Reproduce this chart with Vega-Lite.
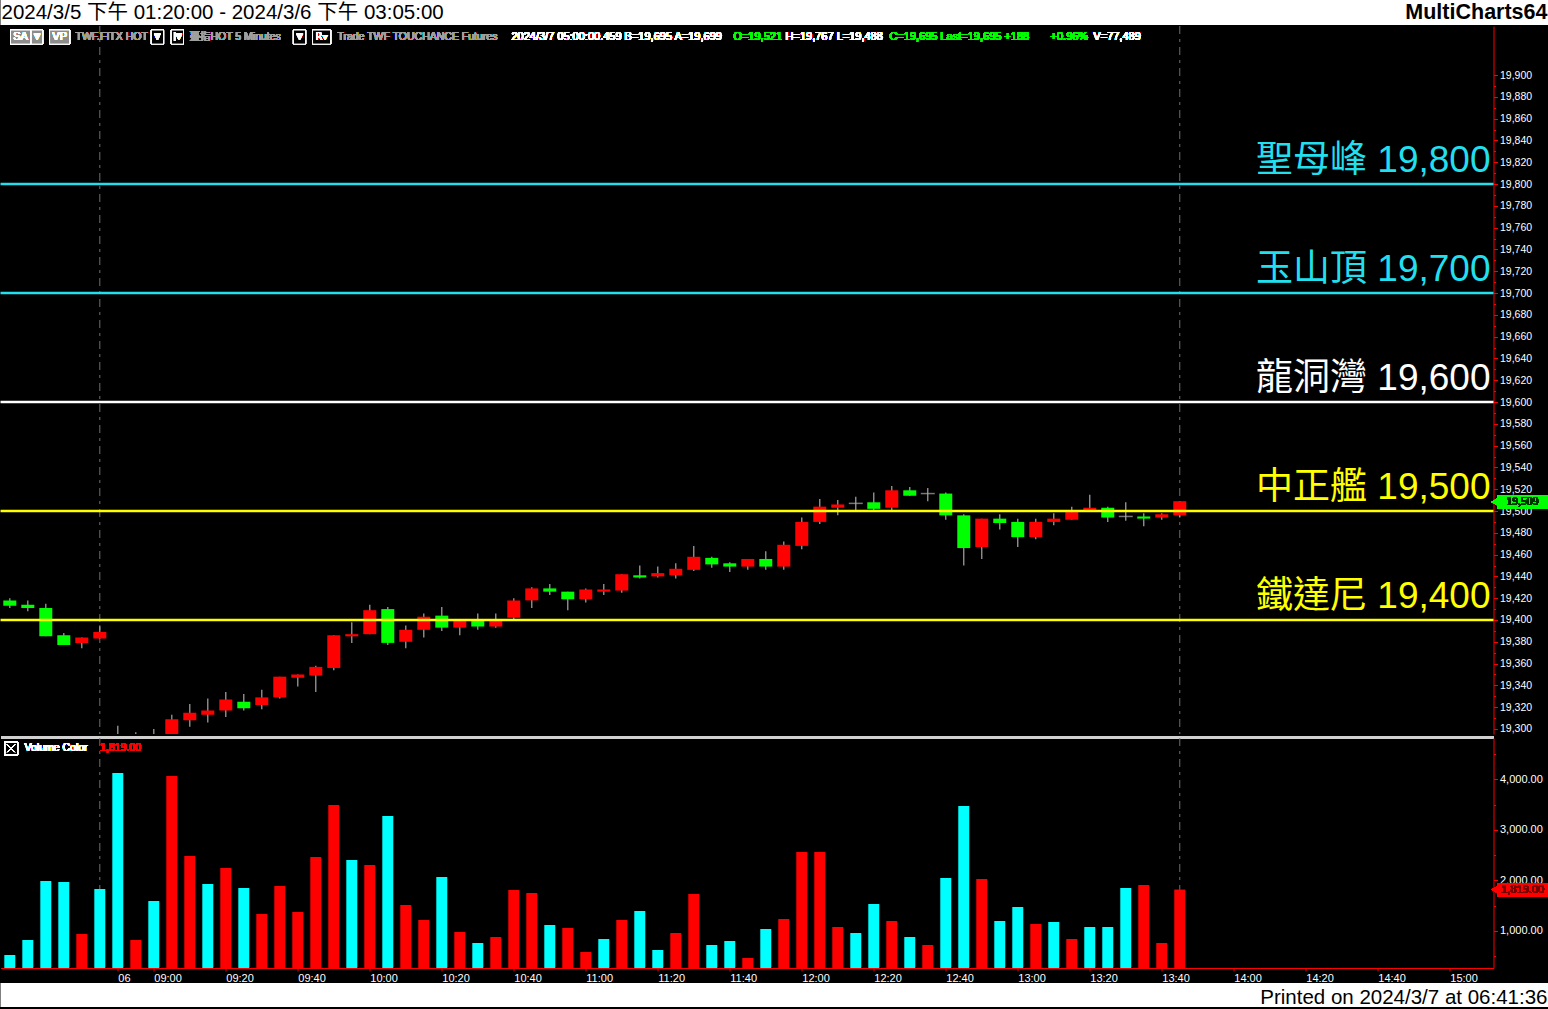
{
  "$schema": "https://vega.github.io/schema/vega-lite/v6.json",
  "background": "black",
  "padding": {"left": -1.5, "top": 0, "right": 0, "bottom": 0},
  "spacing": 0,
  "config": {"view": {"stroke": null}, "font": "Liberation Sans", "concat": {"spacing": 0}, "axis": {"labelOverlap": false, "labelSeparation": 0}, "scale": {"continuousPadding": 0}},
  "resolve": {"scale": {"color": "independent"}},
  "datasets": {
    "bars": [
      {"i":0,"t":"3/5 13:20","o":19418,"h":19420,"l":19411,"c":19413,"v":524,"dir":"down"},
      {"i":1,"t":"3/5 13:25","o":19414,"h":19418,"l":19408,"c":19411,"v":821,"dir":"down"},
      {"i":2,"t":"3/5 13:30","o":19411,"h":19415,"l":19385,"c":19385,"v":1988,"dir":"down"},
      {"i":3,"t":"3/5 13:35","o":19386,"h":19388,"l":19377,"c":19377,"v":1969,"dir":"down"},
      {"i":4,"t":"3/5 13:40","o":19379,"h":19384,"l":19374,"c":19384,"v":940,"dir":"up"},
      {"i":5,"t":"3/5 13:45","o":19383,"h":19395,"l":19383,"c":19389,"v":1830,"dir":"down"},
      {"i":6,"t":"3/6 08:50","o":19262,"h":19303,"l":19240,"c":19250,"v":4125,"dir":"down"},
      {"i":7,"t":"3/6 08:55","o":19250,"h":19297,"l":19245,"c":19272,"v":821,"dir":"up"},
      {"i":8,"t":"3/6 09:00","o":19272,"h":19300,"l":19258,"c":19268,"v":1592,"dir":"down"},
      {"i":9,"t":"3/6 09:05","o":19270,"h":19313,"l":19266,"c":19309,"v":4065,"dir":"up"},
      {"i":10,"t":"3/6 09:10","o":19308,"h":19323,"l":19302,"c":19315,"v":2483,"dir":"up"},
      {"i":11,"t":"3/6 09:15","o":19313,"h":19328,"l":19306,"c":19317,"v":1929,"dir":"down"},
      {"i":12,"t":"3/6 09:20","o":19317,"h":19334,"l":19311,"c":19327,"v":2245,"dir":"up"},
      {"i":13,"t":"3/6 09:25","o":19325,"h":19332,"l":19317,"c":19319,"v":1850,"dir":"down"},
      {"i":14,"t":"3/6 09:30","o":19322,"h":19336,"l":19318,"c":19329,"v":1335,"dir":"up"},
      {"i":15,"t":"3/6 09:35","o":19329,"h":19348,"l":19328,"c":19348,"v":1889,"dir":"up"},
      {"i":16,"t":"3/6 09:40","o":19347,"h":19350,"l":19339,"c":19350,"v":1375,"dir":"up"},
      {"i":17,"t":"3/6 09:45","o":19349,"h":19358,"l":19334,"c":19357,"v":2463,"dir":"up"},
      {"i":18,"t":"3/6 09:50","o":19356,"h":19386,"l":19354,"c":19386,"v":3492,"dir":"up"},
      {"i":19,"t":"3/6 09:55","o":19385,"h":19398,"l":19379,"c":19387,"v":2404,"dir":"down"},
      {"i":20,"t":"3/6 10:00","o":19387,"h":19414,"l":19387,"c":19409,"v":2305,"dir":"up"},
      {"i":21,"t":"3/6 10:05","o":19410,"h":19412,"l":19377,"c":19379,"v":3274,"dir":"down"},
      {"i":22,"t":"3/6 10:10","o":19380,"h":19395,"l":19374,"c":19391,"v":1513,"dir":"up"},
      {"i":23,"t":"3/6 10:15","o":19391,"h":19406,"l":19384,"c":19403,"v":1217,"dir":"up"},
      {"i":24,"t":"3/6 10:20","o":19404,"h":19412,"l":19390,"c":19393,"v":2067,"dir":"down"},
      {"i":25,"t":"3/6 10:25","o":19393,"h":19400,"l":19386,"c":19399,"v":979,"dir":"up"},
      {"i":26,"t":"3/6 10:30","o":19399,"h":19406,"l":19391,"c":19394,"v":762,"dir":"down"},
      {"i":27,"t":"3/6 10:35","o":19394,"h":19406,"l":19393,"c":19399,"v":880,"dir":"up"},
      {"i":28,"t":"3/6 10:40","o":19402,"h":19420,"l":19400,"c":19418,"v":1810,"dir":"up"},
      {"i":29,"t":"3/6 10:45","o":19418,"h":19430,"l":19411,"c":19429,"v":1751,"dir":"up"},
      {"i":30,"t":"3/6 10:50","o":19429,"h":19433,"l":19423,"c":19426,"v":1118,"dir":"down"},
      {"i":31,"t":"3/6 10:55","o":19426,"h":19426,"l":19409,"c":19419,"v":1058,"dir":"up"},
      {"i":32,"t":"3/6 11:00","o":19419,"h":19429,"l":19416,"c":19428,"v":584,"dir":"up"},
      {"i":33,"t":"3/6 11:05","o":19426,"h":19433,"l":19423,"c":19428,"v":841,"dir":"down"},
      {"i":34,"t":"3/6 11:10","o":19427,"h":19442,"l":19425,"c":19442,"v":1217,"dir":"up"},
      {"i":35,"t":"3/6 11:15","o":19441,"h":19450,"l":19438,"c":19439,"v":1395,"dir":"down"},
      {"i":36,"t":"3/6 11:20","o":19440,"h":19449,"l":19439,"c":19443,"v":623,"dir":"down"},
      {"i":37,"t":"3/6 11:25","o":19441,"h":19452,"l":19438,"c":19447,"v":959,"dir":"up"},
      {"i":38,"t":"3/6 11:30","o":19446,"h":19468,"l":19445,"c":19458,"v":1731,"dir":"up"},
      {"i":39,"t":"3/6 11:35","o":19457,"h":19458,"l":19448,"c":19451,"v":722,"dir":"down"},
      {"i":40,"t":"3/6 11:40","o":19452,"h":19453,"l":19444,"c":19449,"v":801,"dir":"down"},
      {"i":41,"t":"3/6 11:45","o":19449,"h":19456,"l":19446,"c":19456,"v":465,"dir":"up"},
      {"i":42,"t":"3/6 11:50","o":19456,"h":19463,"l":19446,"c":19449,"v":1039,"dir":"down"},
      {"i":43,"t":"3/6 11:55","o":19449,"h":19472,"l":19446,"c":19469,"v":1236,"dir":"up"},
      {"i":44,"t":"3/6 12:00","o":19468,"h":19494,"l":19465,"c":19490,"v":2562,"dir":"up"},
      {"i":45,"t":"3/6 12:05","o":19490,"h":19511,"l":19488,"c":19504,"v":2562,"dir":"up"},
      {"i":46,"t":"3/6 12:10","o":19503,"h":19510,"l":19496,"c":19506,"v":1078,"dir":"up"},
      {"i":47,"t":"3/6 12:15","o":19507,"h":19513,"l":19501,"c":19507,"v":959,"dir":"down"},
      {"i":48,"t":"3/6 12:20","o":19508,"h":19517,"l":19501,"c":19502,"v":1533,"dir":"down"},
      {"i":49,"t":"3/6 12:25","o":19503,"h":19523,"l":19501,"c":19519,"v":1197,"dir":"up"},
      {"i":50,"t":"3/6 12:30","o":19519,"h":19522,"l":19514,"c":19514,"v":880,"dir":"down"},
      {"i":51,"t":"3/6 12:35","o":19516,"h":19521,"l":19509,"c":19516,"v":722,"dir":"up"},
      {"i":52,"t":"3/6 12:40","o":19516,"h":19517,"l":19492,"c":19496,"v":2047,"dir":"down"},
      {"i":53,"t":"3/6 12:45","o":19496,"h":19497,"l":19450,"c":19466,"v":3472,"dir":"down"},
      {"i":54,"t":"3/6 12:50","o":19467,"h":19493,"l":19456,"c":19493,"v":2028,"dir":"up"},
      {"i":55,"t":"3/6 12:55","o":19493,"h":19497,"l":19483,"c":19489,"v":1197,"dir":"down"},
      {"i":56,"t":"3/6 13:00","o":19490,"h":19493,"l":19467,"c":19476,"v":1474,"dir":"down"},
      {"i":57,"t":"3/6 13:05","o":19476,"h":19493,"l":19474,"c":19490,"v":1137,"dir":"up"},
      {"i":58,"t":"3/6 13:10","o":19490,"h":19498,"l":19487,"c":19493,"v":1177,"dir":"down"},
      {"i":59,"t":"3/6 13:15","o":19492,"h":19504,"l":19492,"c":19499,"v":841,"dir":"up"},
      {"i":60,"t":"3/6 13:20","o":19500,"h":19515,"l":19499,"c":19503,"v":1078,"dir":"down"},
      {"i":61,"t":"3/6 13:25","o":19503,"h":19504,"l":19490,"c":19494,"v":1078,"dir":"down"},
      {"i":62,"t":"3/6 13:30","o":19495,"h":19508,"l":19491,"c":19495,"v":1850,"dir":"down"},
      {"i":63,"t":"3/6 13:35","o":19495,"h":19498,"l":19486,"c":19493,"v":1909,"dir":"up"},
      {"i":64,"t":"3/6 13:40","o":19494,"h":19498,"l":19492,"c":19497,"v":762,"dir":"up"},
      {"i":65,"t":"3/6 13:45","o":19496,"h":19509,"l":19494,"c":19509,"v":1819,"dir":"up"}
    ],
    "levels": [
      {"label":"聖母峰 19,800","level":19800},
      {"label":"玉山頂 19,700","level":19700},
      {"label":"龍洞灣 19,600","level":19600},
      {"label":"中正艦 19,500","level":19500},
      {"label":"鐵達尼 19,400","level":19400}
    ],
    "sessions": [{"i":5},{"i":65}]
  },
  "vconcat": [
    {
      "width": 1548, "height": 25,
      "view": {"fill": "white", "stroke": null},
      "data": {"values": [{}]},
      "layer": [
        {"mark": {"type":"text","align":"left","baseline":"middle","dx":1,"fontSize":20.5,"color":"black","font":"Liberation Sans, Noto Sans CJK TC"},
         "encoding": {"x": {"datum":0,"type":"quantitative","scale":{"domain":[0,1]},"axis":null},
                      "y": {"datum":0.5,"type":"quantitative","scale":{"domain":[0,1]},"axis":null},
                      "text": {"value":"2024/3/5 下午 01:20:00 - 2024/3/6 下午 03:05:00"}}},
        {"mark": {"type":"text","align":"right","baseline":"middle","dx":-1,"fontSize":21.5,"fontWeight":"bold","color":"black","font":"Liberation Sans"},
         "encoding": {"x": {"datum":1,"type":"quantitative","axis":null},
                      "y": {"datum":0.5,"type":"quantitative","axis":null},
                      "text": {"value":"MultiCharts64"}}}
      ]
    },
    {
      "width": 1493, "height": 708,
      "view": {"stroke": null},
      "data": {"name": "bars"},
      "resolve": {"axis": {"y": "independent"}},
      "layer": [
        {"data": {"name":"sessions"},
         "mark": {"type":"rule","color":"#6e6e6e","strokeWidth":1,"strokeDash":[8,5,3,5]},
         "encoding": {
           "x": {"field":"i","type":"quantitative","scale":{"domain":[-0.517,82.43],"nice":false,"zero":false,"padding":0},
                 "axis": {"orient":"bottom","labels":false,"ticks":false,"grid":false,"title":null,"domainColor":"#d0d0d0","domainWidth":3,"offset":3}}}},
        {"mark": {"type":"rule","color":"#a8a8a8","strokeWidth":1.2,"clip":true},
         "encoding": {
           "x": {"field":"i","type":"quantitative"},
           "y": {"field":"l","type":"quantitative","scale":{"domain":[19295.4,19945],"nice":false,"zero":false,"padding":0},
                 "axis": {"orient":"right","title":null,"grid":false,
                          "values":[19300,19340,19380,19420,19460,19500,19540,19580,19620,19660,19700,19740,19780,19820,19860,19900],
                          "format":",d","tickSize":4,
                          "domainColor":"#ff0000","tickColor":"#ff0000","labelColor":"white","labelFontSize":10.5,"labelFont":"Liberation Sans","labelPadding":2,"labelOverlap":false,"labelFlush":false,"labelBound":false}},
           "y2": {"field":"h"}}},
        {"mark": {"type":"bar","size":13,"clip":true},
         "encoding": {
           "x": {"field":"i","type":"quantitative"},
           "y": {"field":"o","type":"quantitative",
                 "axis": {"orient":"right","title":null,"grid":false,"domain":false,
                          "values":[19320,19360,19400,19440,19480,19520,19560,19600,19640,19680,19720,19760,19800,19840,19880],
                          "format":",d","tickSize":4,
                          "tickColor":"#ff0000","labelColor":"white","labelFontSize":10.5,"labelFont":"Liberation Sans","labelPadding":2,"labelOverlap":false,"labelFlush":false,"labelBound":false}},
           "y2": {"field":"c"},
           "color": {"condition":{"test":"datum.c > datum.o","value":"#ff0000"},"value":"#00ff00"}}},
        {"transform":[{"filter":"datum.o == datum.c"}],
         "mark": {"type":"tick","orient":"horizontal","size":14,"thickness":1.5,"color":"#a8a8a8","clip":true},
         "encoding": {
           "x": {"field":"i","type":"quantitative"},
           "y": {"field":"o","type":"quantitative",
                 "axis": {"orient":"right","title":null,"grid":false,"domain":false,"labels":false,
                          "values":[19310,19330,19350,19370,19390,19410,19430,19450,19470,19490,19510,19530,19550,19570,19590,19610,19630,19650,19670,19690,19710,19730,19750,19770,19790,19810,19830,19850,19870,19890],
                          "tickSize":2,"tickColor":"#ff0000"}}}},
        {"data": {"name":"levels"},
         "mark": {"type":"rule","strokeWidth":2.5},
         "encoding": {
           "y": {"field":"level","type":"quantitative","axis":null},
           "color": {"field":"label","type":"nominal","legend":null,
                     "scale":{"domain":["聖母峰 19,800","玉山頂 19,700","龍洞灣 19,600","中正艦 19,500","鐵達尼 19,400"],
                              "range":["#22dfee","#22dfee","#ffffff","#ffff00","#ffff00"]}}}},
        {"data": {"name":"levels"},
         "mark": {"type":"text","align":"right","baseline":"alphabetic","dx":-3,"dy":-12,"fontSize":37,"font":"Liberation Sans, Noto Sans CJK TC"},
         "encoding": {
           "x": {"datum":82.43,"type":"quantitative"},
           "y": {"field":"level","type":"quantitative","axis":null},
           "text": {"field":"label"},
           "color": {"field":"label","type":"nominal","legend":null}}},
        {"mark": {"type":"rect","color":"#00ff00"},
         "encoding": {"x":{"datum":82.65,"type":"quantitative"},"x2":{"datum":85.43},
                      "y":{"datum":19514.7,"type":"quantitative","axis":null},"y2":{"datum":19501.8}}},
        {"mark": {"type":"point","shape":"triangle-left","filled":true,"color":"#00ff00","size":60,"opacity":1},
         "encoding": {"x":{"datum":82.5,"type":"quantitative"},"y":{"datum":19508.3,"type":"quantitative","axis":null}}},
        {"mark": {"type":"text","align":"center","baseline":"middle","fontSize":10.5,"color":"#003300"},
         "encoding": {"x":{"datum":84.04,"type":"quantitative"},"y":{"datum":19508.3,"type":"quantitative","axis":null},"text":{"value":"19,509"}}},
        {"mark": {"type":"rect","fill":"#8c8c8c","stroke":"white","strokeWidth":1},
         "encoding": {"x":{"datum":0.04,"type":"quantitative"},"x2":{"datum":1.15},
                      "y":{"datum":19941.3,"type":"quantitative","axis":null},"y2":{"datum":19928.4}}},
        {"mark": {"type":"rect","fill":"#8c8c8c","stroke":"white","strokeWidth":1},
         "encoding": {"x":{"datum":1.2,"type":"quantitative"},"x2":{"datum":1.82},
                      "y":{"datum":19941.3,"type":"quantitative","axis":null},"y2":{"datum":19928.4}}},
        {"mark": {"type":"rect","fill":"#8c8c8c","stroke":"white","strokeWidth":1},
         "encoding": {"x":{"datum":2.21,"type":"quantitative"},"x2":{"datum":3.32},
                      "y":{"datum":19941.3,"type":"quantitative","axis":null},"y2":{"datum":19928.4}}},
        {"mark": {"type":"rect","fill":"black","stroke":"white","strokeWidth":1},
         "encoding": {"x":{"datum":7.87,"type":"quantitative"},"x2":{"datum":8.54},
                      "y":{"datum":19941.3,"type":"quantitative","axis":null},"y2":{"datum":19928.4}}},
        {"mark": {"type":"rect","fill":"black","stroke":"white","strokeWidth":1},
         "encoding": {"x":{"datum":8.98,"type":"quantitative"},"x2":{"datum":9.65},
                      "y":{"datum":19941.3,"type":"quantitative","axis":null},"y2":{"datum":19928.4}}},
        {"mark": {"type":"rect","fill":"black","stroke":"white","strokeWidth":1},
         "encoding": {"x":{"datum":15.76,"type":"quantitative"},"x2":{"datum":16.43},
                      "y":{"datum":19941.3,"type":"quantitative","axis":null},"y2":{"datum":19928.4}}},
        {"mark": {"type":"rect","fill":"black","stroke":"white","strokeWidth":1},
         "encoding": {"x":{"datum":16.82,"type":"quantitative"},"x2":{"datum":17.82},
                      "y":{"datum":19941.3,"type":"quantitative","axis":null},"y2":{"datum":19928.4}}},
        {"mark": {"type":"text","align":"center","baseline":"middle","fontSize":11,"color":"white"},
         "encoding": {"x":{"datum":0.6,"type":"quantitative"},"y":{"datum":19934.9,"type":"quantitative","axis":null},"text":{"value":"SA"}}},
        {"mark": {"type":"text","align":"center","baseline":"middle","fontSize":11,"color":"white"},
         "encoding": {"x":{"datum":2.77,"type":"quantitative"},"y":{"datum":19934.9,"type":"quantitative","axis":null},"text":{"value":"VP"}}},
        {"mark": {"type":"text","align":"center","baseline":"middle","fontSize":8,"color":"white","font":"DejaVu Sans"},
         "encoding": {"x":{"datum":1.51,"type":"quantitative"},"y":{"datum":19934.9,"type":"quantitative","axis":null},"text":{"value":"▼"}}},
        {"mark": {"type":"text","align":"center","baseline":"middle","fontSize":8,"color":"white","font":"DejaVu Sans"},
         "encoding": {"x":{"datum":8.2,"type":"quantitative"},"y":{"datum":19934.9,"type":"quantitative","axis":null},"text":{"value":"▼"}}},
        {"mark": {"type":"text","align":"center","baseline":"middle","fontSize":8,"color":"white","font":"DejaVu Sans"},
         "encoding": {"x":{"datum":9.32,"type":"quantitative"},"y":{"datum":19934.9,"type":"quantitative","axis":null},"text":{"value":"|▼"}}},
        {"mark": {"type":"text","align":"center","baseline":"middle","fontSize":8,"color":"white","font":"DejaVu Sans"},
         "encoding": {"x":{"datum":16.1,"type":"quantitative"},"y":{"datum":19934.9,"type":"quantitative","axis":null},"text":{"value":"▼"}}},
        {"mark": {"type":"text","align":"center","baseline":"middle","fontSize":10,"color":"white","font":"DejaVu Sans"},
         "encoding": {"x":{"datum":17.32,"type":"quantitative"},"y":{"datum":19934.9,"type":"quantitative","axis":null},"text":{"value":"R▾"}}},
        {"mark": {"type":"text","align":"left","baseline":"middle","fontSize":10.5,"color":"#a0a0a0","font":"Liberation Sans, Noto Sans CJK TC"},
         "encoding": {"x":{"datum":3.65,"type":"quantitative"},"y":{"datum":19934.9,"type":"quantitative","axis":null},"text":{"value":"TWF.FITX HOT"}}},
        {"mark": {"type":"text","align":"left","baseline":"middle","fontSize":10.5,"color":"#a0a0a0","font":"Liberation Sans, Noto Sans CJK TC"},
         "encoding": {"x":{"datum":9.98,"type":"quantitative"},"y":{"datum":19934.9,"type":"quantitative","axis":null},"text":{"value":"臺指HOT  5 Minutes"}}},
        {"mark": {"type":"text","align":"left","baseline":"middle","fontSize":10.5,"color":"#a0a0a0"},
         "encoding": {"x":{"datum":18.2,"type":"quantitative"},"y":{"datum":19934.9,"type":"quantitative","axis":null},"text":{"value":"Trade  TWF  TOUCHANCE  Futures"}}},
        {"mark": {"type":"text","align":"left","baseline":"middle","fontSize":11,"color":"white"},
         "encoding": {"x":{"datum":27.87,"type":"quantitative"},"y":{"datum":19934.9,"type":"quantitative","axis":null},"text":{"value":"2024/3/7  05:00:00.459  B=19,695  A=19,699"}}},
        {"mark": {"type":"text","align":"left","baseline":"middle","fontSize":11,"color":"#00ff00"},
         "encoding": {"x":{"datum":40.2,"type":"quantitative"},"y":{"datum":19934.9,"type":"quantitative","axis":null},"text":{"value":"O=19,521"}}},
        {"mark": {"type":"text","align":"left","baseline":"middle","fontSize":11,"color":"white"},
         "encoding": {"x":{"datum":43.1,"type":"quantitative"},"y":{"datum":19934.9,"type":"quantitative","axis":null},"text":{"value":"H=19,767  L=19,488"}}},
        {"mark": {"type":"text","align":"left","baseline":"middle","fontSize":11,"color":"#00ff00"},
         "encoding": {"x":{"datum":48.87,"type":"quantitative"},"y":{"datum":19934.9,"type":"quantitative","axis":null},"text":{"value":"C=19,695  Last=19,695  +188"}}},
        {"mark": {"type":"text","align":"left","baseline":"middle","fontSize":11,"color":"#00ff00"},
         "encoding": {"x":{"datum":57.82,"type":"quantitative"},"y":{"datum":19934.9,"type":"quantitative","axis":null},"text":{"value":"+0.96%"}}},
        {"mark": {"type":"text","align":"left","baseline":"middle","fontSize":11,"color":"white"},
         "encoding": {"x":{"datum":60.2,"type":"quantitative"},"y":{"datum":19934.9,"type":"quantitative","axis":null},"text":{"value":"V=77,489"}}}
      ]
    },
    {
      "width": 1493, "height": 230,
      "view": {"stroke": null},
      "data": {"name": "bars"},
      "resolve": {"axis": {"y": "independent"}},
      "layer": [
        {"data": {"name":"sessions"},
         "mark": {"type":"rule","color":"#6e6e6e","strokeWidth":1,"strokeDash":[8,5,3,5]},
         "encoding": {
           "x": {"field":"i","type":"quantitative","scale":{"domain":[-0.517,82.43],"nice":false,"zero":false,"padding":0},
                 "axis": {"orient":"bottom","title":null,"grid":false,
                          "values":[6,8,12,16,20,24,28,32,36,40,44,48,52,56,60,64,68,72,76,80],
                          "labelExpr":"datum.value == 6 ? '06' : pad('' + floor((540 + (datum.value - 8) * 5) / 60), 2, '0', 'left') + ':' + pad('' + ((540 + (datum.value - 8) * 5) % 60), 2, '0', 'left')",
                          "labelAlign":"left","labelOffset":0,"labelPadding":1,"labelColor":"white","labelFontSize":11,"labelFont":"Liberation Sans",
                          "tickColor":"#ff0000","tickSize":3,"domainColor":"#ff0000","labelOverlap":false,"labelFlush":false,"labelBound":false}}}},
        {"mark": {"type":"bar","size":11},
         "encoding": {
           "x": {"field":"i","type":"quantitative"},
           "y": {"field":"v","type":"quantitative","scale":{"domain":[267,4817],"nice":false,"zero":false,"padding":0},
                 "axis": {"orient":"right","title":null,"grid":false,
                          "values":[1000,2000,3000,4000],
                          "format":",.2f","tickSize":4,
                          "domainColor":"#ff0000","tickColor":"#ff0000","labelColor":"white","labelFontSize":11,"labelFont":"Liberation Sans","labelPadding":2,"labelOverlap":false,"labelFlush":false,"labelBound":false}},
           "y2": {"datum":267},
           "color": {"condition":{"test":"datum.dir == 'up'","value":"#ff0000"},"value":"#00ffff"}}},
        {"mark": {"type":"point","shape":"M-1,-1H1V1H-1ZM-0.55,-0.55L0.55,0.55M0.55,-0.55L-0.55,0.55","filled":false,"color":"white","strokeWidth":1,"size":169,"opacity":1},
         "encoding": {"x":{"datum":0.07,"type":"quantitative"},"y":{"datum":4610,"type":"quantitative","axis":null}}},
        {"mark": {"type":"text","align":"left","baseline":"middle","fontSize":10.5,"color":"white"},
         "encoding": {"x":{"datum":0.82,"type":"quantitative"},"y":{"datum":4619,"type":"quantitative","axis":null},"text":{"value":"Volume Color"}}},
        {"mark": {"type":"text","align":"left","baseline":"middle","fontSize":10.5,"color":"#ff0000"},
         "encoding": {"x":{"datum":5.01,"type":"quantitative"},"y":{"datum":4619,"type":"quantitative","axis":null},"text":{"value":"1,819.00"}}},
        {"mark": {"type":"rect","color":"#ff0000"},
         "encoding": {"x":{"datum":82.65,"type":"quantitative"},"x2":{"datum":85.43},
                      "y":{"datum":1949,"type":"quantitative",
                           "axis": {"orient":"right","title":null,"grid":false,"domain":false,"labels":false,
                                    "values":[500,1500,2500,3500,4500],"tickSize":2,"tickColor":"#ff0000"}},
                      "y2":{"datum":1672}}},
        {"mark": {"type":"point","shape":"triangle-left","filled":true,"color":"#ff0000","size":60,"opacity":1},
         "encoding": {"x":{"datum":82.5,"type":"quantitative"},"y":{"datum":1819,"type":"quantitative","axis":null}}},
        {"mark": {"type":"text","align":"center","baseline":"middle","fontSize":11,"color":"#7a0000"},
         "encoding": {"x":{"datum":84.04,"type":"quantitative"},"y":{"datum":1810,"type":"quantitative","axis":null},"text":{"value":"1,819.00"}}}
      ]
    },
    {
      "width": 1548, "height": 24,
      "view": {"fill": "white", "stroke": null},
      "data": {"values": [{}]},
      "mark": {"type":"text","align":"right","baseline":"middle","dx":-1,"fontSize":20.5,"color":"black","font":"Liberation Sans"},
      "encoding": {"x": {"datum":1,"type":"quantitative","scale":{"domain":[0,1]},"axis":null},
                   "y": {"datum":0.38,"type":"quantitative","scale":{"domain":[0,1]},"axis":null},
                   "text": {"value":"Printed on 2024/3/7 at 06:41:36"}}
    }
  ]
}
